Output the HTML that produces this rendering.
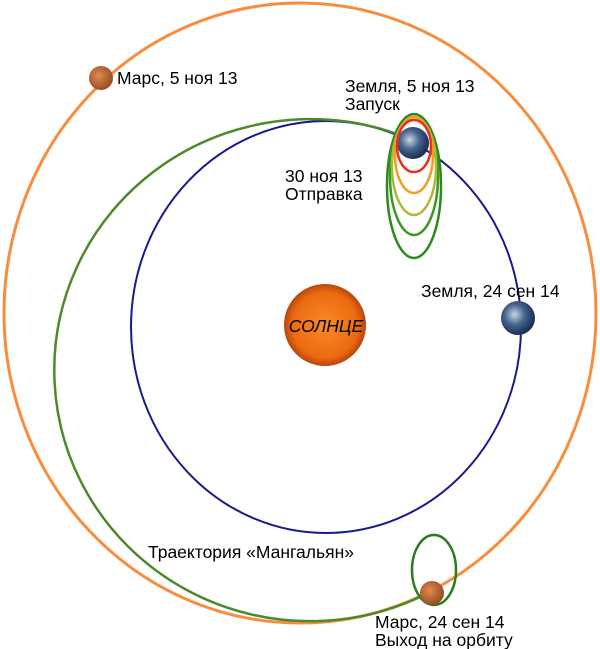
<!DOCTYPE html>
<html><head><meta charset="utf-8"><style>
html,body{margin:0;padding:0;background:#fff;width:600px;height:649px;overflow:hidden}
text{font-family:"Liberation Sans",sans-serif;font-size:17.5px;fill:#000}
</style></head><body>
<svg width="600" height="649" viewBox="0 0 600 649" xmlns="http://www.w3.org/2000/svg">
<defs>
<radialGradient id="sun" cx="0.5" cy="0.5" r="0.5">
<stop offset="0" stop-color="#f98a2a"/><stop offset="0.8" stop-color="#ec6a10"/><stop offset="1" stop-color="#b84510"/></radialGradient>
<radialGradient id="earth" cx="0.4" cy="0.4" r="0.6">
<stop offset="0" stop-color="#c9d6e6"/><stop offset="0.5" stop-color="#45648e"/><stop offset="1" stop-color="#1b2e55"/></radialGradient>
<radialGradient id="mars" cx="0.4" cy="0.4" r="0.6">
<stop offset="0" stop-color="#e08a50"/><stop offset="1" stop-color="#9a4d25"/></radialGradient>
</defs>
<ellipse cx="300" cy="313" rx="296" ry="310" fill="none" stroke="#f98d3e" stroke-width="3"/>
<ellipse cx="326" cy="327" rx="195" ry="206" fill="none" stroke="#1a1a8a" stroke-width="2"/>
<path d="M410,139 A256,251 0 1 0 432,591" fill="none" stroke="#4e8a2a" stroke-width="2.5"/>
<circle cx="325" cy="325" r="41" fill="url(#sun)"/>
<text x="326" y="332" text-anchor="middle" font-style="italic" font-size="18">СОЛНЦЕ</text>
<circle cx="413" cy="143" r="16" fill="url(#earth)"/>
<ellipse cx="414" cy="186" rx="27" ry="72" fill="none" stroke="#2a8a1e" stroke-width="2.5"/>
<ellipse cx="414" cy="176" rx="24" ry="59" fill="none" stroke="#3a9a20" stroke-width="2.5"/>
<ellipse cx="414" cy="166" rx="22" ry="49" fill="none" stroke="#b0b83a" stroke-width="2.5"/>
<ellipse cx="414" cy="155" rx="19" ry="38" fill="none" stroke="#f0a020" stroke-width="2.5"/>
<ellipse cx="414" cy="146" rx="17" ry="26" fill="none" stroke="#e83020" stroke-width="2.5"/>
<circle cx="518" cy="318" r="17" fill="url(#earth)"/>
<circle cx="101" cy="78" r="12" fill="url(#mars)"/>
<ellipse cx="434" cy="570" rx="22" ry="35" fill="none" stroke="#2a7a1e" stroke-width="2.5"/>
<circle cx="432" cy="593" r="12" fill="url(#mars)"/>
<text x="117" y="84">Марс, 5 ноя 13</text>
<text x="345" y="92">Земля, 5 ноя 13</text>
<text x="345" y="110">Запуск</text>
<text x="285" y="182">30 ноя 13</text>
<text x="285" y="200">Отправка</text>
<text x="421" y="297">Земля, 24 сен 14</text>
<text x="148" y="558" font-size="16.5">Траектория «Мангальян»</text>
<text x="375" y="628">Марс, 24 сен 14</text>
<text x="375" y="646">Выход на орбиту</text>
</svg>
</body></html>
